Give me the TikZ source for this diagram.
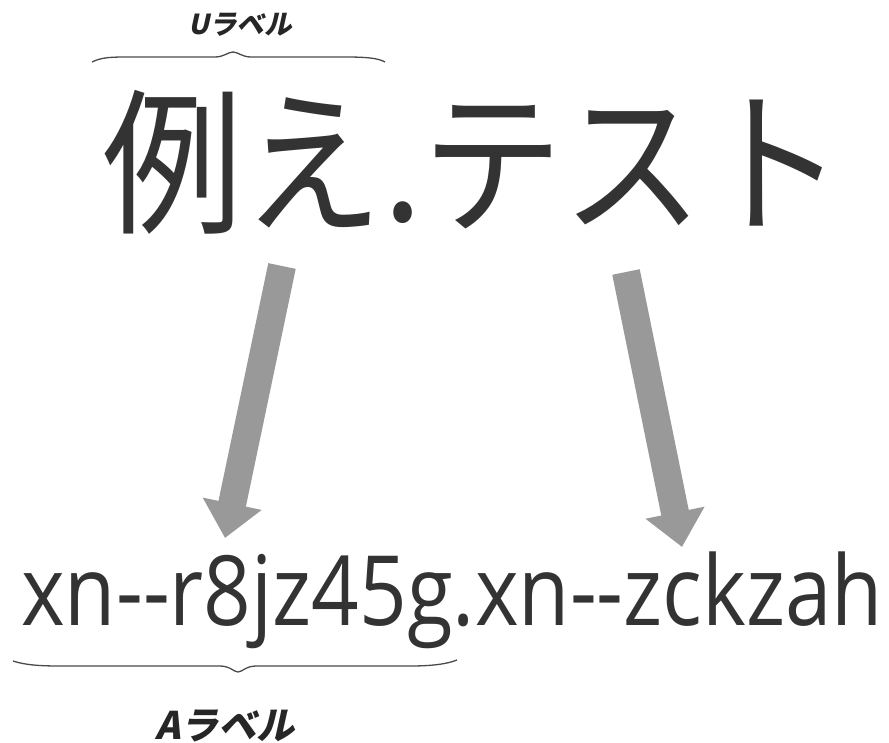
\documentclass[tikz,border=0pt]{standalone}
\usepackage{fontspec}
\usetikzlibrary{arrows.meta}
\newfontfamily\jpfont{Noto Sans CJK JP}
\newfontfamily\jplabelfont[FakeSlant=0.22]{Noto Sans CJK JP}
\newfontfamily\latinfont{Open Sans}
\definecolor{txt}{HTML}{333333}
\definecolor{arrowgray}{HTML}{999999}
\definecolor{bracegray}{HTML}{4A4A4A}
\tikzset{
  bigtext/.style={inner sep=0pt, text=txt, font=\jpfont\fontsize{157}{160}\selectfont},
  codetext/.style={inner sep=0pt, text=txt, font=\latinfont\fontsize{97}{100}\selectfont},
  labeltext/.style={inner sep=0pt, text=black!85, font=\jplabelfont\bfseries},
  bigarrow/.style={draw=arrowgray, line width=28pt, line cap=butt,
    -{Triangle[width=58pt,length=35pt]}},
  bracepath/.style={draw=bracegray, line width=1.3pt}
}
\begin{document}
\begin{tikzpicture}[x=1pt,y=-1pt]
\useasboundingbox (0,0) rectangle (889,742);
\node[labeltext, font=\jplabelfont\bfseries\fontsize{27.5}{30}\selectfont, anchor=base] (ulabel) at (240,34) {Uラベル};
\draw[bracepath] (92,62) .. controls (102,57) and (112,57) .. (130,57) -- (215,57)
  .. controls (224,57) and (228,52) .. (233,52) .. controls (238,52) and (242,57) .. (251,57)
  -- (345,57) .. controls (366,57) and (378,58) .. (385,62);
\node[bigtext, anchor=base] (uni) at (473,221) {\scalebox{0.895}[1]{例え.テスト}};
\node[codetext, anchor=base] (ace) at (452,625) {\scalebox{0.86}[1]{xn--r8jz45g.xn--zckzah}};
\draw[bracepath] (13,661) .. controls (25,665) and (40,666) .. (60,666) -- (220,666)
  .. controls (230,666) and (234,672) .. (238,672) .. controls (242,672) and (246,666) .. (256,666)
  -- (410,666) .. controls (432,666) and (447,664) .. (457,660);
\node[labeltext, font=\jplabelfont\bfseries\fontsize{38}{42}\selectfont, anchor=base] (alabel) at (225,739) {Aラベル};
\coordinate (a1s) at (282,266);
\coordinate (a1e) at (225,538);
\coordinate (a2s) at (626,272);
\coordinate (a2e) at (682,547);
\draw[bigarrow] (a1s) -- (a1e);
\draw[bigarrow] (a2s) -- (a2e);
\end{tikzpicture}
\end{document}
